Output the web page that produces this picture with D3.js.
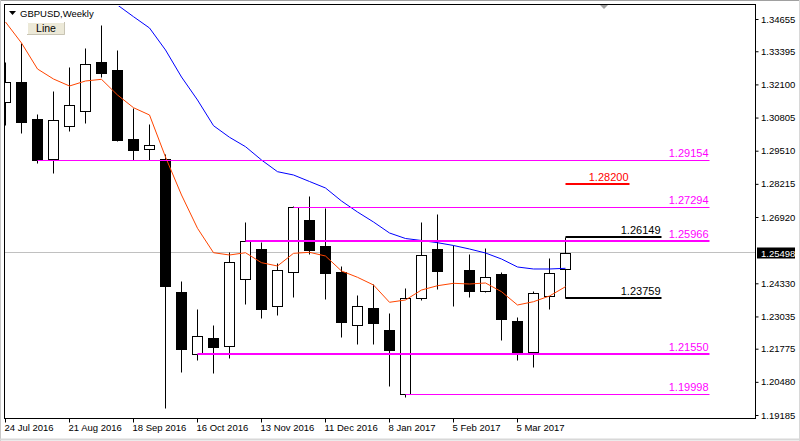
<!DOCTYPE html>
<html><head><meta charset="utf-8">
<script src="https://cdn.jsdelivr.net/npm/d3@7/dist/d3.min.js"></script>
<style>
body{margin:0;background:#fff;}
svg{display:block;}
text{font-family:"Liberation Sans",Arial,sans-serif;}
</style>
</head><body>
<svg id="chart" width="800" height="441"></svg>
<script>
// ---------------- DATA ----------------
const symbol = "GBPUSD,Weekly";
const buttonLabel = "Line";
const weekIndex = d3.range(36); // weeks from 24 Jul 2016 to 26 Mar 2017
const open  = [1.31413,1.32194,1.30749,1.29198,1.30487,1.31061,1.32987,1.32663,1.29967,1.29565,1.29186,1.23978,1.21550,1.22193,1.21869,1.24486,1.25670,1.23431,1.24760,1.26803,1.25787,1.24760,1.22689,1.23365,1.22494,1.19998,1.23744,1.25658,1.24838,1.24838,1.24017,1.24693,1.22857,1.21634,1.23822,1.24877];
const high  = [1.32975,1.33718,1.30944,1.31854,1.32792,1.33522,1.34421,1.33444,1.31178,1.30553,1.29381,1.24420,1.23326,1.22701,1.25541,1.26725,1.25955,1.25111,1.27362,1.27740,1.27260,1.25006,1.23861,1.24291,1.23158,1.24135,1.26713,1.27037,1.25815,1.25475,1.25709,1.24771,1.23002,1.24029,1.25318,1.26149];
const low   = [1.30514,1.30202,1.29030,1.28639,1.30292,1.30592,1.32389,1.29889,1.29147,1.29147,1.19458,1.20877,1.21334,1.20814,1.21423,1.23510,1.22986,1.23103,1.23807,1.25463,1.23717,1.22244,1.21970,1.21970,1.20330,1.19900,1.23666,1.24096,1.23455,1.23807,1.24000,1.22127,1.21322,1.21072,1.23338,1.23759];
const close = [1.32194,1.30631,1.29154,1.30709,1.31295,1.32897,1.32557,1.29928,1.29537,1.29733,1.24236,1.21775,1.22259,1.21830,1.25150,1.25966,1.23338,1.24838,1.27294,1.25643,1.24744,1.22830,1.23431,1.22791,1.21736,1.23744,1.25424,1.24799,1.24850,1.24041,1.24564,1.22924,1.21619,1.23951,1.24721,1.25498];
const maFast = [1.34538,1.33718,1.32702,1.32311,1.32038,1.32233,1.32299,1.31686,1.31190,1.30905,1.29264,1.27780,1.26479,1.25525,1.25436,1.25525,1.25135,1.25006,1.25502,1.25541,1.25396,1.24811,1.24564,1.24264,1.23588,1.23678,1.24068,1.24236,1.24330,1.24303,1.24342,1.24002,1.23482,1.23611,1.23834,1.24197];
const maSlow = [null,null,null,null,null,null,null,1.35202,1.34745,1.34304,1.33444,1.32389,1.31491,1.30487,1.30034,1.29667,1.29147,1.28690,1.28561,1.28307,1.28053,1.27545,1.27115,1.26725,1.26295,1.26080,1.26002,1.25916,1.25807,1.25670,1.25514,1.25279,1.24967,1.24889,1.24889,1.24916];
const xTickIndex  = [0,4,8,12,16,20,24,28,32];
const xTickLabels = ["24 Jul 2016","21 Aug 2016","18 Sep 2016","16 Oct 2016","13 Nov 2016","11 Dec 2016","8 Jan 2017","5 Feb 2017","5 Mar 2017"];
const yTickValues = [1.34655,1.33395,1.32100,1.30805,1.29510,1.28215,1.26920,1.24330,1.23035,1.21775,1.20480,1.19185];
const lastPrice = 1.25498;
const levelPrice = [1.29154,1.28200,1.27294,1.26149,1.25966,1.23759,1.21550,1.19998];
const levelFrom  = [2,35,18,35,15,35,12,25];
const levelTo    = [44,39,44,41,44,41,44,44];

// ---------------- STYLE / LAYOUT ----------------
const levelColor = ["#ff00ff","#ff0000","#ff00ff","#000000","#ff00ff","#000000","#ff00ff","#ff00ff"];
const levelWidth = [1,2,1,2,2,2,2,1];
const plot = {left:4, right:755, top:5, bottom:418};

const svg = d3.select("#chart");
const x = d3.scaleLinear().domain([0,35]).range([5.5,565.5]);
const y = d3.scaleLinear().domain([1.19185,1.34655]).range([415,19]);
const crisp = v => Math.round(v) + 0.5;

// window frame
svg.append("rect").attr("x",0).attr("y",0).attr("width",800).attr("height",441).attr("fill","#fff");
svg.append("line").attr("x1",0).attr("x2",800).attr("y1",0.5).attr("y2",0.5).attr("stroke","#a0a0a0");
svg.append("line").attr("x1",0.5).attr("x2",0.5).attr("y1",0).attr("y2",441).attr("stroke","#c8c8c8");
svg.append("line").attr("x1",0).attr("x2",800).attr("y1",439.5).attr("y2",439.5).attr("stroke","#d8d8d8").attr("stroke-width",2);
svg.append("line").attr("x1",799.5).attr("x2",799.5).attr("y1",0).attr("y2",441).attr("stroke","#d8d8d8");

// clip
svg.append("clipPath").attr("id","plotclip").append("rect")
  .attr("x",plot.left+1).attr("y",plot.top+1)
  .attr("width",plot.right-plot.left-1).attr("height",plot.bottom-plot.top-1);
const g = svg.append("g").attr("clip-path","url(#plotclip)");

// bid line
g.append("line").attr("x1",plot.left).attr("x2",plot.right)
  .attr("y1",crisp(y(lastPrice))-1).attr("y2",crisp(y(lastPrice))-1)
  .attr("stroke","#c0c0c0");

// candles
const candles = g.append("g");
weekIndex.forEach(i => {
  const cx = x(i);
  candles.append("line").attr("x1",cx).attr("x2",cx)
    .attr("y1",crisp(y(high[i]))).attr("y2",crisp(y(low[i])))
    .attr("stroke","#000");
  const yTop = crisp(y(Math.max(open[i],close[i])));
  const yBot = crisp(y(Math.min(open[i],close[i])));
  candles.append("rect").attr("x",cx-5).attr("width",10)
    .attr("y",yTop).attr("height",Math.max(0,yBot-yTop))
    .attr("fill", close[i] >= open[i] ? "#fff" : "#000")
    .attr("stroke","#000");
});

// moving averages
const lineGen = d3.line().defined(d => d[1] != null).x(d => x(d[0])).y(d => y(d[1]));
g.append("path").datum(weekIndex.map(i => [i, maSlow[i]]))
  .attr("d",lineGen).attr("fill","none").attr("stroke","#0000ff").attr("stroke-width",1);
g.append("path").datum(weekIndex.map(i => [i, maFast[i]]))
  .attr("d",lineGen).attr("fill","none").attr("stroke","#ff4500").attr("stroke-width",1);

// horizontal levels
levelPrice.forEach((p,k) => {
  const yy = levelWidth[k] === 1 ? crisp(y(p)) : Math.round(y(p));
  g.append("line").attr("x1",x(levelFrom[k])).attr("x2",x(levelTo[k]))
    .attr("y1",yy).attr("y2",yy)
    .attr("stroke",levelColor[k]).attr("stroke-width",levelWidth[k]);
  g.append("text").attr("x",x(levelTo[k])-1).attr("y",Math.round(y(p))-3)
    .attr("text-anchor","end").attr("font-size",11)
    .attr("fill",levelColor[k]).text(p.toFixed(5));
});

// plot border
svg.append("rect").attr("x",plot.left+0.5).attr("y",plot.top-0.5)
  .attr("width",plot.right-plot.left).attr("height",plot.bottom-plot.top+1)
  .attr("fill","none").attr("stroke","#000");

// y axis
const yAxis = d3.axisRight(y).tickValues(yTickValues).tickFormat(d3.format(".5f"))
  .tickSize(3).tickPadding(2.5);
const ya = svg.append("g").attr("transform",`translate(${plot.right+0.5},0)`).call(yAxis);
ya.select(".domain").remove();
ya.selectAll("text").attr("font-size",9.5).attr("font-family","Liberation Sans, Arial, sans-serif").attr("fill","#000");
ya.selectAll("line").attr("stroke","#000");

// last price box
const ly = Math.round(y(lastPrice));
svg.append("rect").attr("x",757).attr("y",ly-5.5).attr("width",38).attr("height",11).attr("fill","#000");
svg.append("text").attr("x",761).attr("y",ly+3.5).attr("font-size",9.5).attr("fill","#fff").text(lastPrice.toFixed(5));

// x axis
const xAxis = d3.axisBottom(x).tickValues(xTickIndex)
  .tickFormat((d,k) => xTickLabels[k]).tickSize(4).tickPadding(1.5);
const xa = svg.append("g").attr("transform",`translate(-0.5,${plot.bottom+0.5})`).call(xAxis);
xa.select(".domain").remove();
xa.selectAll("text").attr("text-anchor","start").attr("x",-1)
  .attr("font-size",9.5).attr("font-family","Liberation Sans, Arial, sans-serif").attr("fill","#000");
xa.selectAll("line").attr("stroke","#000");

// top-left label and button
svg.append("path").attr("d","M9,11 L16,11 L12.5,15 Z").attr("fill","#000");
svg.append("text").attr("x",20).attr("y",16.5).attr("font-size",9.5).attr("fill","#000").text(symbol);
svg.append("rect").attr("x",27).attr("y",22).attr("width",38).attr("height",13).attr("fill","#ece9d8");
svg.append("path").attr("d","M27.5,35 L27.5,22.5 L65,22.5").attr("fill","none").attr("stroke","#ffffff");
svg.append("path").attr("d","M27,34.5 L64.5,34.5 L64.5,22").attr("fill","none").attr("stroke","#c8c4b4");
svg.append("text").attr("x",46).attr("y",32).attr("text-anchor","middle").attr("font-size",10.5).attr("fill","#000").text(buttonLabel);

// chart shift marker
svg.append("path").attr("d","M600,5 L608,5 L604,9 Z").attr("fill","#a0a0a0");
</script>
</body></html>
